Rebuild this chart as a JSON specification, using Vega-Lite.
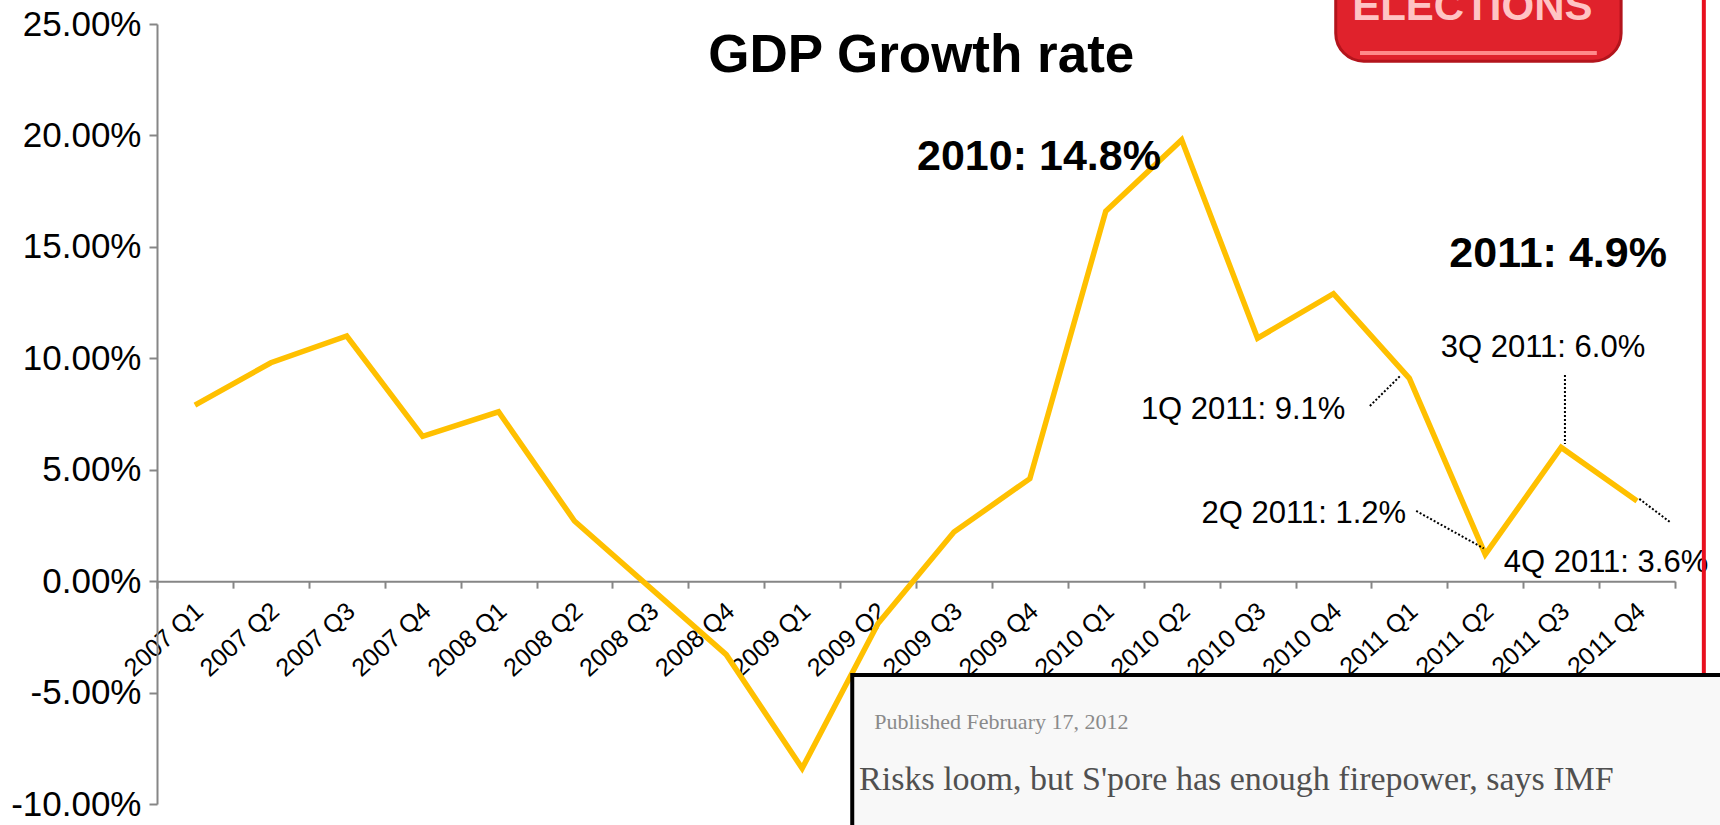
{
  "$schema": "https://vega.github.io/schema/vega-lite/v6.json",
  "width": 1518,
  "height": 780,
  "autosize": {"type": "none"},
  "padding": {"left": 157, "top": 24, "right": 45, "bottom": 21},
  "background": "white",
  "config": {"view": {"stroke": null}, "font": "Liberation Sans"},
  "datasets": {
    "gdp": [
      {"quarter": "2007 Q1", "growth": 7.9},
      {"quarter": "2007 Q2", "growth": 9.8},
      {"quarter": "2007 Q3", "growth": 11.0},
      {"quarter": "2007 Q4", "growth": 6.5},
      {"quarter": "2008 Q1", "growth": 7.6},
      {"quarter": "2008 Q2", "growth": 2.7},
      {"quarter": "2008 Q3", "growth": -0.3},
      {"quarter": "2008 Q4", "growth": -3.3},
      {"quarter": "2009 Q1", "growth": -8.4},
      {"quarter": "2009 Q2", "growth": -1.9},
      {"quarter": "2009 Q3", "growth": 2.2},
      {"quarter": "2009 Q4", "growth": 4.6},
      {"quarter": "2010 Q1", "growth": 16.6},
      {"quarter": "2010 Q2", "growth": 19.8},
      {"quarter": "2010 Q3", "growth": 10.9},
      {"quarter": "2010 Q4", "growth": 12.9},
      {"quarter": "2011 Q1", "growth": 9.1},
      {"quarter": "2011 Q2", "growth": 1.2},
      {"quarter": "2011 Q3", "growth": 6.0},
      {"quarter": "2011 Q4", "growth": 3.6}
    ],
    "title": [
      {"label": "GDP Growth rate", "xi": 10.07, "v": 22.85}
    ],
    "bold_labels": [
      {"label": "2010: 14.8%", "xi": 11.62, "v": 18.45},
      {"label": "2011: 4.9%", "xi": 18.46, "v": 14.1}
    ],
    "labels": [
      {"label": "1Q 2011: 9.1%", "xi": 14.31, "v": 7.28},
      {"label": "2Q 2011: 1.2%", "xi": 15.11, "v": 2.61},
      {"label": "3Q 2011: 6.0%", "xi": 18.26, "v": 10.08},
      {"label": "4Q 2011: 3.6%", "xi": 19.09, "v": 0.43}
    ],
    "leaders": [
      {"xi": 15.98, "xi2": 16.38, "v": 7.86, "v2": 9.21},
      {"xi": 18.55, "xi2": 18.55, "v": 9.25, "v2": 6.15},
      {"xi": 16.59, "xi2": 17.48, "v": 3.15, "v2": 1.47},
      {"xi": 19.53, "xi2": 19.95, "v": 3.69, "v2": 2.61}
    ],
    "redline": [{"xi": 20.38, "v": 27, "v2": -12}],
    "logo": [{"xi": 15.53, "xi2": 19.29, "v": 27.5, "v2": 23.33}],
    "logo_band": [{"xi": 15.85, "xi2": 18.97, "v": 23.7}],
    "logo_text": [{"label": "ELECTIONS", "xi": 17.33, "v": 25.18}],
    "box": [{"xi": 9.16, "xi2": 21.5, "v": -4.21, "v2": -13}],
    "box_small": [{"label": "Published February 17, 2012", "xi": 9.45, "v": -6.32}],
    "box_head": [{"label": "Risks loom, but S'pore has enough firepower, says IMF", "xi": 9.25, "v": -8.92}]
  },
  "layer": [
    {
      "data": {"name": "gdp"},
      "mark": {"type": "line", "color": "#FFC000", "strokeWidth": 5.5, "clip": false},
      "encoding": {
        "x": {
          "field": "quarter", "type": "nominal", "sort": null, "bandPosition": 0.5,
          "scale": {"type": "band", "paddingInner": 0, "paddingOuter": 0},
          "axis": {
            "title": null, "labelAngle": -42, "labelAlign": "right", "labelBaseline": "top",
            "labelFontSize": 25, "labelColor": "black", "labelFont": "Liberation Sans",
            "tickBand": "extent", "tickSize": 7, "tickColor": "#868686", "tickWidth": 2,
            "domainColor": "#868686", "domainWidth": 2, "offset": -222.86, "labelPadding": 10,
            "labelOffset": -4, "grid": false, "labelOverlap": false
          }
        },
        "y": {
          "field": "growth", "type": "quantitative",
          "scale": {"domain": [-10, 25], "nice": false, "zero": false},
          "axis": {
            "values": [-10, -5, 0, 5, 10, 15, 20, 25],
            "labelExpr": "(datum.value < 0 ? '-' : '') + format(abs(datum.value), '.2f') + '%'",
            "labelFontSize": 35, "labelColor": "black", "labelFont": "Liberation Sans",
            "tickSize": 8, "tickColor": "#868686", "tickWidth": 2,
            "domainColor": "#868686", "domainWidth": 2, "labelPadding": 8,
            "grid": false, "title": null
          }
        }
      }
    },
    {
      "encoding": {
        "x": {"field": "xi", "type": "quantitative", "scale": {"domain": [0, 20], "nice": false, "zero": false}, "axis": null},
        "y": {
          "field": "v", "type": "quantitative",
          "axis": {
            "values": [-10, -5, 0, 5, 10, 15, 20, 25],
            "labelExpr": "(datum.value < 0 ? '-' : '') + format(abs(datum.value), '.2f') + '%'",
            "labelFontSize": 35, "labelColor": "black", "labelFont": "Liberation Sans",
            "tickSize": 8, "tickColor": "#868686", "tickWidth": 2,
            "domainColor": "#868686", "domainWidth": 2, "labelPadding": 8,
            "grid": false, "title": null
          }
        }
      },
      "layer": [
        {
          "data": {"name": "title"},
          "mark": {"type": "text", "fontSize": 53, "fontWeight": "bold", "font": "Liberation Sans", "color": "black", "align": "center", "baseline": "alphabetic", "clip": false},
          "encoding": {"text": {"field": "label"}}
        },
        {
          "data": {"name": "bold_labels"},
          "mark": {"type": "text", "fontSize": 43, "fontWeight": "bold", "font": "Liberation Sans", "color": "black", "align": "center", "baseline": "alphabetic", "clip": false},
          "encoding": {"text": {"field": "label"}}
        },
        {
          "data": {"name": "labels"},
          "mark": {"type": "text", "fontSize": 31, "font": "Liberation Sans", "color": "black", "align": "center", "baseline": "alphabetic", "clip": false},
          "encoding": {"text": {"field": "label"}}
        },
        {
          "data": {"name": "leaders"},
          "mark": {"type": "rule", "color": "black", "strokeWidth": 2, "strokeDash": [2, 2]},
          "encoding": {"x2": {"field": "xi2"}, "y2": {"field": "v2"}}
        },
        {
          "data": {"name": "redline"},
          "mark": {"type": "rule", "color": "#E8101E", "strokeWidth": 4, "clip": false},
          "encoding": {"y2": {"field": "v2"}}
        },
        {
          "data": {"name": "logo"},
          "mark": {"type": "rect", "fill": "#E0222C", "stroke": "#B3141C", "strokeWidth": 3, "cornerRadius": 28, "clip": false},
          "encoding": {"x2": {"field": "xi2"}, "y2": {"field": "v2"}}
        },
        {
          "data": {"name": "logo_band"},
          "mark": {"type": "rule", "color": "#FF8A8A", "strokeWidth": 4, "clip": false},
          "encoding": {"x2": {"field": "xi2"}}
        },
        {
          "data": {"name": "logo_text"},
          "mark": {"type": "text", "fontSize": 42, "fontWeight": "bold", "font": "Liberation Sans", "color": "#FFC4C4", "align": "center", "baseline": "alphabetic", "clip": false},
          "encoding": {"text": {"field": "label"}}
        },
        {
          "data": {"name": "box"},
          "mark": {"type": "rect", "fill": "#F8F8F8", "stroke": "black", "strokeWidth": 4, "clip": false},
          "encoding": {"x2": {"field": "xi2"}, "y2": {"field": "v2"}}
        },
        {
          "data": {"name": "box_small"},
          "mark": {"type": "text", "fontSize": 22, "font": "Liberation Serif", "color": "#8A8A8A", "align": "left", "baseline": "middle", "clip": false},
          "encoding": {"text": {"field": "label"}}
        },
        {
          "data": {"name": "box_head"},
          "mark": {"type": "text", "fontSize": 34, "font": "Liberation Serif", "color": "#505050", "align": "left", "baseline": "middle", "clip": false},
          "encoding": {"text": {"field": "label"}}
        }
      ]
    }
  ],
  "resolve": {"scale": {"x": "independent"}}
}
